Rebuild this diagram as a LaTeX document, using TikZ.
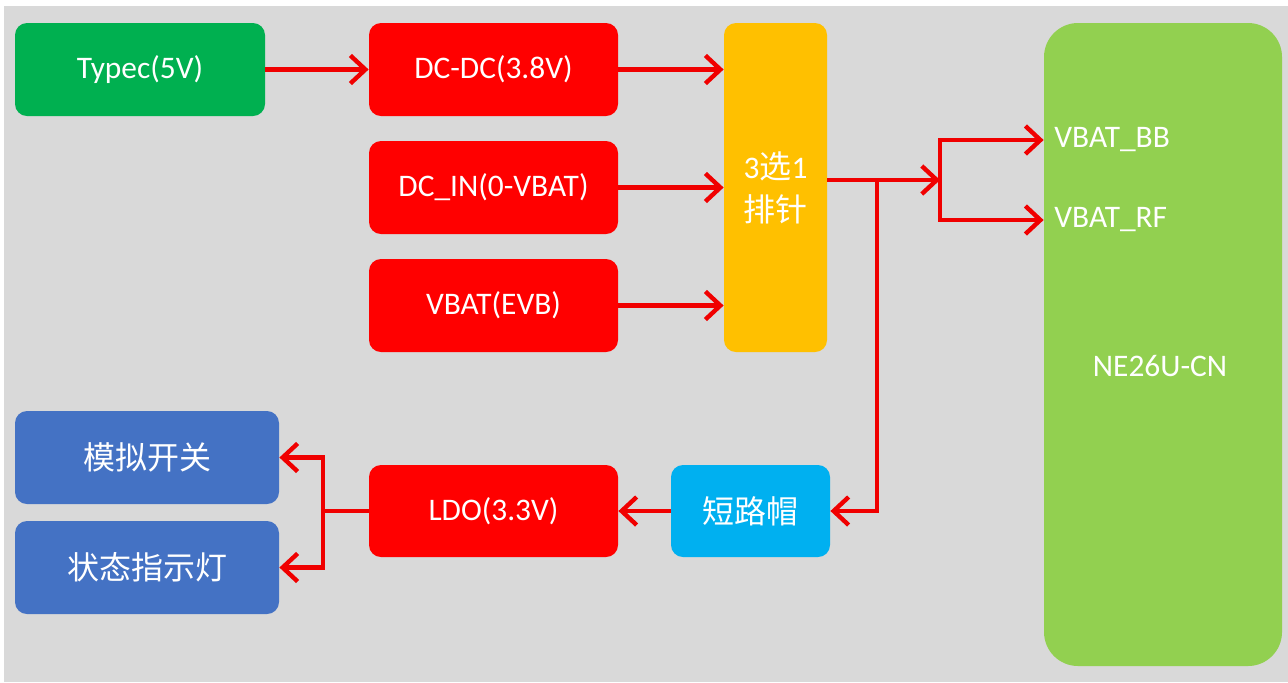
\documentclass[tikz,border=0pt]{standalone}
\usepackage{fontspec}
\setmainfont{Carlito}
\newfontfamily\cjk{Noto Sans CJK SC}
\usetikzlibrary{arrows.meta,calc}
\definecolor{bg}{HTML}{D9D9D9}
\definecolor{cgreen}{HTML}{00B050}
\definecolor{cred}{HTML}{FF0000}
\definecolor{cyellow}{HTML}{FFC000}
\definecolor{clime}{HTML}{92D050}
\definecolor{cblue}{HTML}{4472C4}
\definecolor{ccyan}{HTML}{00B0F0}
\definecolor{carrow}{HTML}{F00000}
\begin{document}
\begin{tikzpicture}[x=0.5pt,y=-0.5pt,
  box/.style={rounded corners=6pt,inner sep=0pt,text=white,
    font=\fontsize{15.7}{18}\selectfont,align=center},
  cbox/.style={box,font=\fontsize{16}{21.5}\selectfont\cjk},
  ln/.style={draw=carrow,line width=2.2pt},
  arr/.style={ln,-{Straight Barb[length=7.5pt,width=14pt,line width=2.2pt]}}]
\useasboundingbox (0,0) rectangle (1288,682);
\fill[white] (0,0) rectangle (1288,682);
\fill[bg] (4,6) rectangle (1288,682);
% nodes
\node[box,fill=cgreen,minimum width=125pt,minimum height=46.5pt] (typec) at (140,69.5) {Typec(5V)};
\node[box,fill=cred,minimum width=124.5pt,minimum height=46.5pt] (dcdc) at (493.5,69.5) {DC-DC(3.8V)};
\node[box,fill=cred,minimum width=124.5pt,minimum height=46.5pt] (dcin) at (493.5,187.5) {DC\_IN(0-VBAT)};
\node[box,fill=cred,minimum width=124.5pt,minimum height=46.5pt] (vbat) at (493.5,305.5) {VBAT(EVB)};
\node[box,fill=cyellow,minimum width=51.5pt,minimum height=164.5pt,font=\fontsize{15.7}{21.5}\selectfont] (pin) at (775.5,187.5) {3{\cjk\fontsize{16}{21.5}\selectfont 选}1\\{\cjk\fontsize{16}{21.5}\selectfont 排针}};
\node[box,fill=clime,rounded corners=17pt,minimum width=119pt,minimum height=321.5pt] (ne) at (1163,344.5) {};
\node[text=white,font=\fontsize{15.7}{18}\selectfont] (nelabel) at (1160,366) {NE26U-CN};
\node[text=white,font=\fontsize{15.7}{18}\selectfont,anchor=west,inner sep=0pt] (bb) at (1054,140) {VBAT\_BB};
\node[text=white,font=\fontsize{15.7}{18}\selectfont,anchor=west,inner sep=0pt] (rf) at (1054,220) {VBAT\_RF};
\node[cbox,fill=cblue,minimum width=132pt,minimum height=46.5pt] (sw) at (147,457.5) {模拟开关};
\node[cbox,fill=cblue,minimum width=132pt,minimum height=46.5pt] (led) at (147,567.5) {状态指示灯};
\node[box,fill=cred,minimum width=124.5pt,minimum height=46pt] (ldo) at (493.5,511) {LDO(3.3V)};
\node[cbox,fill=ccyan,minimum width=79.5pt,minimum height=46pt] (sc) at (750.5,511) {短路帽};
% junctions
\coordinate (j1) at (940,180);
\coordinate (j2) at (877,180);
\coordinate (j3) at (323,511);
% connectors
\draw[arr] (typec.east) -- (dcdc.west);
\draw[arr] (dcdc.east) -- (pin.west |- dcdc.east);
\draw[arr] (dcin.east) -- (pin.west |- dcin.east);
\draw[arr] (vbat.east) -- (pin.west |- vbat.east);
\draw[arr] (pin.east |- j1) -- (j1);
\draw[arr] (j1) |- (ne.west |- bb);
\draw[arr] (j1) |- (ne.west |- rf);
\draw[arr] (j2) |- (sc.east);
\draw[arr] (sc.west) -- (ldo.east);
\draw[ln] (ldo.west) -- (j3);
\draw[arr] (j3) |- (sw.east);
\draw[arr] (j3) |- (led.east);
\end{tikzpicture}
\end{document}
